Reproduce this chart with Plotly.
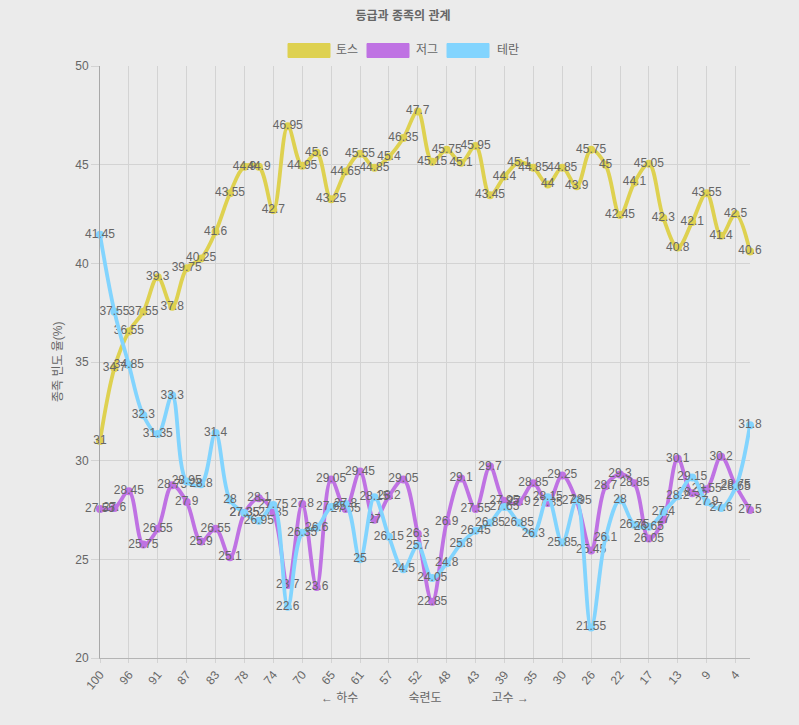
import plotly.graph_objects as go

# ---------------- data ----------------
categories = ["100", "98", "96", "93", "91", "89", "87", "85", "83", "80",
              "78", "76", "74", "72", "70", "67", "65", "63", "61", "59",
              "57", "54", "52", "50", "48", "46", "43", "41", "39", "37",
              "35", "33", "30", "28", "26", "24", "22", "20", "17", "15",
              "13", "11", "9", "7", "4", "2"]
tick_labels = categories[::2]

toss = [31, 34.7, 36.55, 37.55, 39.3, 37.8, 39.75, 40.25, 41.6, 43.55,
        44.9, 44.9, 42.7, 46.95, 44.95, 45.6, 43.25, 44.65, 45.55, 44.85,
        45.4, 46.35, 47.7, 45.15, 45.75, 45.1, 45.95, 43.45, 44.4, 45.1,
        44.85, 44, 44.85, 43.9, 45.75, 45, 42.45, 44.1, 45.05, 42.3,
        40.8, 42.1, 43.55, 41.4, 42.5, 40.6]
zerg = [27.55, 27.6, 28.45, 25.75, 26.55, 28.75, 27.9, 25.9, 26.55, 25.1,
        27.35, 28.1, 27.35, 23.7, 27.8, 23.6, 29.05, 27.55, 29.45, 27,
        28.2, 29.05, 26.3, 22.85, 26.9, 29.1, 27.55, 29.7, 27.95, 27.9,
        28.85, 27.85, 29.25, 27.95, 25.45, 28.7, 29.3, 28.85, 26.05, 27,
        30.1, 28.35, 28.55, 30.2, 28.75, 27.5]
terran = [41.45, 37.55, 34.85, 32.3, 31.35, 33.3, 28.95, 28.8, 31.4, 28,
          27.35, 26.95, 27.75, 22.6, 26.35, 26.6, 27.65, 27.8, 25, 28.15,
          26.15, 24.5, 25.7, 24.05, 24.8, 25.8, 26.45, 26.85, 27.65, 26.85,
          26.3, 28.15, 25.85, 28, 21.55, 26.1, 28, 26.75, 26.65, 27.4,
          28.2, 29.15, 27.9, 27.6, 28.65, 31.8]

series_names = ["토스", "저그", "테란"]
series_values = [toss, zerg, terran]
series_colors = ["#ded150", "#bf72e3", "#82d4fe"]

title_text = "등급과 종족의 관계"
y_title = "종족 빈도 율(%)"
x_title = "← 하수" + "\u00a0" * 15 + "숙련도" + "\u00a0" * 15 + "고수 →"

# ---------------- figure ----------------
FONT = "Liberation Sans, Arial, Noto Sans CJK KR, sans-serif"
BG = "#ebebeb"
GRID = "#d3d3d3"
TXT = "#666666"

fig = go.Figure()
for name, vals, col in zip(series_names, series_values, series_colors):
    fig.add_trace(go.Scatter(
        x=categories, y=vals, name=name, mode="lines+markers+text",
        line=dict(color=col, width=3.8, shape="spline", smoothing=1.0),
        marker=dict(color=col, size=8),
        text=[f"{v:g}" for v in vals], textposition="middle center",
        textfont=dict(family=FONT, size=12, color=TXT),
        cliponaxis=False, showlegend=False, hoverinfo="x+y+name",
    ))

# plot area in pixels
L, R, T, B = 100, 750, 66, 658
W, H = 799, 725


def px(xp):
    return (xp - L) / (R - L)


def py(yp):
    return (B - yp) / (B - T)


# legend drawn as Chart.js style boxes
legend_items = [(288, 334), (367, 414), (447, 495)]
shapes = []
annotations = []
for (bx, tx), name, col in zip(legend_items, series_names, series_colors):
    shapes.append(dict(type="rect", xref="paper", yref="paper",
                       x0=px(bx), x1=px(bx + 42), y0=py(57.5), y1=py(43.5),
                       fillcolor=col, line=dict(color=col, width=1)))
    annotations.append(dict(xref="paper", yref="paper", x=px(tx), y=py(50.5),
                            xanchor="left", yanchor="middle", showarrow=False,
                            text=name, font=dict(family=FONT, size=12, color=TXT)))

annotations.append(dict(xref="paper", yref="paper", x=px(58), y=0.5,
                        xanchor="center", yanchor="middle", showarrow=False,
                        textangle=-90, text=y_title,
                        font=dict(family=FONT, size=12, color=TXT)))
annotations.append(dict(xref="paper", yref="paper", x=0.5, y=py(698),
                        xanchor="center", yanchor="middle", showarrow=False,
                        text=x_title, font=dict(family=FONT, size=12, color=TXT)))

fig.update_layout(
    width=W, height=H,
    margin=dict(l=L, r=W - R, t=T, b=H - B, pad=0),
    paper_bgcolor=BG, plot_bgcolor=BG,
    font=dict(family=FONT, size=12, color=TXT),
    title=dict(text=title_text, x=403 / W, xanchor="center",
               y=1 - 16 / H, yanchor="middle",
               font=dict(family=FONT, size=12, color=TXT, weight="bold")),
    shapes=shapes, annotations=annotations,
    showlegend=False,
    xaxis=dict(type="category", range=[0, len(categories) - 1],
               categoryorder="array", categoryarray=categories,
               tickmode="array", tickvals=tick_labels, ticktext=tick_labels,
               tickangle=-50, showgrid=True, gridcolor=GRID, gridwidth=1,
               showline=True, linecolor="#b4b4b4", linewidth=1,
               ticks="outside", ticklen=4, tickcolor=GRID,
               tickfont=dict(family=FONT, size=12, color=TXT),
               zeroline=False, fixedrange=True),
    yaxis=dict(range=[20, 50], dtick=5, tick0=20,
               showgrid=True, gridcolor=GRID, gridwidth=1,
               showline=True, linecolor="#a8a8a8", linewidth=1,
               ticks="outside", ticklen=8, tickcolor=GRID,
               tickfont=dict(family=FONT, size=12, color=TXT),
               zeroline=False, fixedrange=True),
)

fig.write_html(
    "out.html",
    config={"displayModeBar": False},
    post_script=("document.body.style.margin='0';"
                 "document.body.style.padding='0';"
                 "document.body.style.background='#ebebeb';"
                 "document.body.style.overflow='hidden';"),
)
